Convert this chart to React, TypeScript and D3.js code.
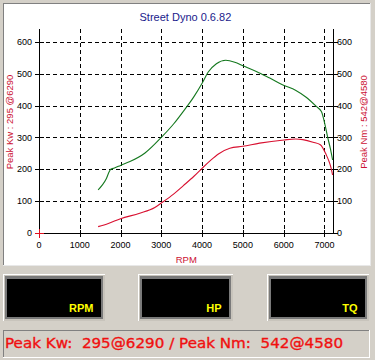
import React from "react";
import * as d3 from "d3";

const xTicks = [0, 1000, 2000, 3000, 4000, 5000, 6000, 7000];
const yTicks = [0, 100, 200, 300, 400, 500, 600];

const torqueRpm = [1450, 1550, 1650, 1720, 1760, 1850, 2000, 2230, 2600, 3000, 3300, 3535, 3800, 4000, 4150, 4350, 4580, 4800, 5000, 5330, 5660, 6010, 6290, 6560, 6800, 6925, 7005, 7080, 7150, 7200];
const torqueNm = [135, 150, 170, 192, 200, 204, 212, 224, 251, 300, 342, 381, 428, 470, 505, 531, 542, 536, 525, 507, 486, 463, 448, 425, 397, 381, 345, 300, 262, 229];

const powerRpm = [1450, 1700, 2000, 2470, 2840, 3000, 3300, 3535, 3800, 4000, 4200, 4400, 4680, 5000, 5410, 6010, 6290, 6470, 6720, 6900, 7045, 7120, 7165, 7200];
const powerKw = [20, 30, 45, 62, 80, 94, 122, 148, 178, 203, 227, 248, 266, 272, 282, 292, 295, 293, 285, 277, 245, 222, 203, 182];

const title = "Street Dyno 0.6.82";
const xLabel = "RPM";
const leftLabel = "Peak Kw : 295 @6290";
const rightLabel = "Peak Nm : 542@4580";
const boxLabels = ["RPM", "HP", "TQ"];
const statusText = "Peak Kw:  295@6290 / Peak Nm:  542@4580";

export default function App() {
  const W = 375, H = 360;
  const x = d3.scaleLinear().domain([0, 7210]).range([39, 333]);
  const y = d3.scaleLinear().domain([0, 640]).range([233, 29]);
  const xL = x.range()[0], xR = x.range()[1];
  const yB = y.range()[0], yT = y.range()[1];

  const line = d3.line<[number, number]>().x(d => x(d[0])).y(d => y(d[1])).curve(d3.curveMonotoneX);
  const torquePath = line(torqueRpm.map((r, i) => [r, torqueNm[i]]) as [number, number][]) || "";
  const powerPath = line(powerRpm.map((r, i) => [r, powerKw[i]]) as [number, number][]) || "";

  const tickFont = "'Liberation Sans', Arial, sans-serif";
  const boxes = [
    { x0: 3, x1: 105 },
    { x0: 138, x1: 233 },
    { x0: 267, x1: 369 },
  ];

  return (
    <svg width={W} height={H} style={{ position: "absolute", left: 0, top: 0, display: "block" }}>
      <rect x={0} y={0} width={W} height={H} fill="#d4d0c8" />
      {/* plot panel */}
      <rect x={3} y={3} width={367} height={262} fill="#ffffff" />
      <line x1={3} y1={3.5} x2={370} y2={3.5} stroke="#808080" />
      <line x1={3.5} y1={3} x2={3.5} y2={265} stroke="#808080" />
      <line x1={370.5} y1={3} x2={370.5} y2={266} stroke="#e8e8e8" />
      <line x1={3} y1={265.5} x2={371} y2={265.5} stroke="#e8e8e8" />

      <text x={185.4} y={20.7} textAnchor="middle" fontFamily={tickFont} fontSize={11} fill="#1a1a8c">{title}</text>

      {/* grid */}
      {yTicks.filter(t => t > 0).map(t => (
        <line key={"gy" + t} x1={xL} x2={xR} y1={Math.round(y(t)) + 0.5} y2={Math.round(y(t)) + 0.5} stroke="#000" strokeDasharray="4,3" />
      ))}
      {xTicks.filter(t => t > 0).map(t => (
        <line key={"gx" + t} x1={Math.round(x(t)) + 0.5} x2={Math.round(x(t)) + 0.5} y1={yT} y2={yB} stroke="#000" strokeDasharray="4,3" />
      ))}

      {/* axes */}
      <line x1={xL + 0.5} x2={xL + 0.5} y1={yT} y2={yB} stroke="#000" />
      <line x1={xR + 0.5} x2={xR + 0.5} y1={yT} y2={yB} stroke="#000" />
      <line x1={xL} x2={xR + 1} y1={yB + 0.5} y2={yB + 0.5} stroke="#000" />

      {/* left ticks & labels */}
      {yTicks.map(t => (
        <g key={"ly" + t}>
          {t > 0 && <line x1={xL - 4} x2={xL + 5} y1={Math.round(y(t)) + 0.5} y2={Math.round(y(t)) + 0.5} stroke="#000" />}
          <text x={32} y={y(t) + 3.2} textAnchor="end" fontFamily={tickFont} fontSize={9} fill="#000">{t}</text>
        </g>
      ))}
      {/* right ticks & labels */}
      {yTicks.map(t => (
        <g key={"ry" + t}>
          <line x1={xR - 4} x2={xR + 5} y1={Math.round(y(t)) + 0.5} y2={Math.round(y(t)) + 0.5} stroke="#000" />
          <text x={337} y={y(t) + 3.2} textAnchor="start" fontFamily={tickFont} fontSize={9} fill="#000">{t}</text>
        </g>
      ))}
      {/* x ticks & labels */}
      {xTicks.map(t => (
        <g key={"xt" + t}>
          {t > 0 && <line x1={Math.round(x(t)) + 0.5} x2={Math.round(x(t)) + 0.5} y1={yB - 3} y2={yB + 4} stroke="#000" />}
          <text x={x(t)} y={248} textAnchor="middle" fontFamily={tickFont} fontSize={9} fill="#000">{t}</text>
        </g>
      ))}
      {/* origin red cross */}
      <line x1={xL - 4} x2={xL + 5} y1={yB + 0.5} y2={yB + 0.5} stroke="#e01020" />
      <line x1={xL + 0.5} x2={xL + 0.5} y1={yB - 4} y2={yB + 5} stroke="#e01020" />

      <text x={186.3} y={263} textAnchor="middle" fontFamily={tickFont} fontSize={9.5} fill="#cc1133">{xLabel}</text>
      <text transform="translate(12.8,122) rotate(-90)" textAnchor="middle" fontFamily={tickFont} fontSize={9.5} fill="#cc1133">{leftLabel}</text>
      <text transform="translate(367,122) rotate(-90)" textAnchor="middle" fontFamily={tickFont} fontSize={9.5} fill="#cc1133">{rightLabel}</text>

      {/* curves */}
      <path d={torquePath} fill="none" stroke="#14781e" strokeWidth={1.1} />
      <path d={powerPath} fill="none" stroke="#d81030" strokeWidth={1.1} />

      {/* boxes */}
      {boxes.map((b, i) => (
        <g key={"box" + i}>
          <rect x={b.x0} y={274} width={b.x1 - b.x0} height={47} fill="#ffffff" />
          <rect x={b.x0 + 1} y={275} width={b.x1 - b.x0 - 1} height={46} fill="#c8c4bc" />
          <rect x={b.x0 + 2} y={276} width={b.x1 - b.x0 - 4} height={43} fill="#7a7a7a" />
          <rect x={b.x0 + 4} y={279} width={b.x1 - b.x0 - 8} height={38} fill="#000000" />
          <text x={b.x1 - 11.5} y={311.7} textAnchor="end" fontFamily={tickFont} fontWeight="bold" fontSize={11} fill="#ffff00">{boxLabels[i]}</text>
        </g>
      ))}

      {/* status bar */}
      <rect x={3} y={330} width={367} height={28} fill="#d4d0c8" />
      <line x1={3} y1={330.5} x2={370} y2={330.5} stroke="#808080" />
      <line x1={3.5} y1={330} x2={3.5} y2={358} stroke="#808080" />
      <line x1={3} y1={357.5} x2={370} y2={357.5} stroke="#ffffff" />
      <line x1={369.5} y1={330} x2={369.5} y2={358} stroke="#ffffff" />
      <text x={5} y={348.3} fontFamily="'DejaVu Sans', sans-serif" fontSize={14.5} fill="#f01010" stroke="#f01010" strokeWidth={0.35} style={{ whiteSpace: "pre" }} textLength={338} lengthAdjust="spacingAndGlyphs">{statusText}</text>
    </svg>
  );
}
